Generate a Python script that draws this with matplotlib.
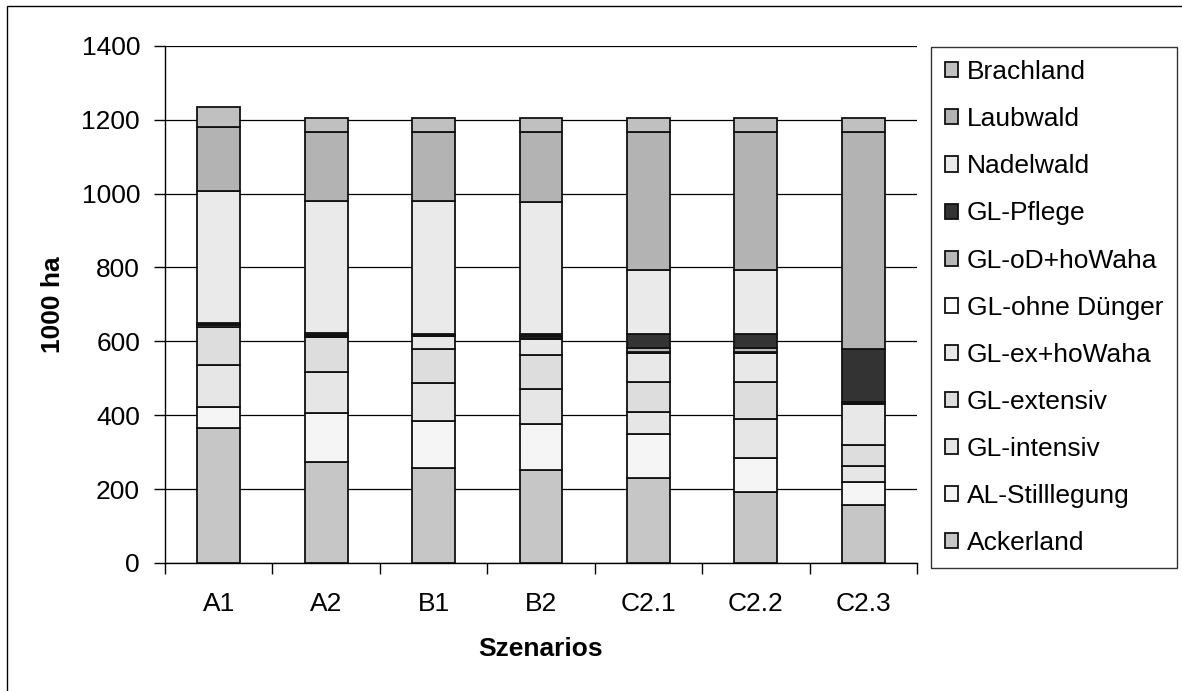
import numpy as np
import matplotlib
matplotlib.use("Agg")
import matplotlib.pyplot as plt
from matplotlib.patches import Rectangle

plt.rcParams['font.family'] = ['Liberation Sans', 'DejaVu Sans']

szenarios = ["A1", "A2", "B1", "B2", "C2.1", "C2.2", "C2.3"]

# land use in 1000 ha, stacked from bottom to top
ackerland = [366, 272, 258, 253, 229, 191, 158]
al_stilllegung = [57, 133, 126, 122, 119, 94, 62]
gl_intensiv = [113, 111, 104, 95, 60, 106, 42]
gl_extensiv = [104, 95, 91, 93, 81, 98, 57]
gl_ex_howaha = [0, 0, 34, 43, 78, 78, 112]
gl_ohne_duenger = [3, 3, 2, 3, 5, 5, 3]
gl_od_howaha = [3, 4, 2, 4, 11, 11, 3]
gl_pflege = [3, 4, 3, 7, 37, 37, 142]
nadelwald = [357, 357, 359, 358, 174, 174, 0]
laubwald = [174, 188, 188, 189, 373, 373, 588]
brachland = [53, 36, 36, 36, 36, 36, 36]

series = [
    ("Ackerland", ackerland, "#c6c6c6"),
    ("AL-Stilllegung", al_stilllegung, "#f5f5f5"),
    ("GL-intensiv", gl_intensiv, "#e6e6e6"),
    ("GL-extensiv", gl_extensiv, "#dddddd"),
    ("GL-ex+hoWaha", gl_ex_howaha, "#e8e8e8"),
    ("GL-ohne Dünger", gl_ohne_duenger, "#ffffff"),
    ("GL-oD+hoWaha", gl_od_howaha, "#b8b8b8"),
    ("GL-Pflege", gl_pflege, "#333333"),
    ("Nadelwald", nadelwald, "#eaeaea"),
    ("Laubwald", laubwald, "#b3b3b3"),
    ("Brachland", brachland, "#c0c0c0"),
]

FS = 19

fig = plt.figure(figsize=(11.82, 6.91), dpi=100)
ax = fig.add_axes([165 / 1182, 1 - 563 / 691, (917 - 165) / 1182, (563 - 45.7) / 691])

x = np.arange(len(szenarios))
bottom = np.zeros(len(szenarios))
handles = []
for name, vals, col in series:
    vals = np.array(vals, dtype=float)
    b = ax.bar(x, vals, 0.4, bottom=bottom, color=col, edgecolor="#111111",
               linewidth=1.3, label=name, zorder=3)
    handles.append(b)
    bottom += vals

ax.set_xlim(-0.5, len(szenarios) - 0.5)
ax.set_ylim(0, 1400)
ax.set_yticks(np.arange(0, 1401, 200))
ax.set_xticks(x)
ax.set_xticklabels(szenarios)
ax.set_xticks(np.arange(-0.5, len(szenarios), 1), minor=True)
ax.tick_params(axis="x", which="major", length=0, pad=21, labelsize=FS)
ax.tick_params(axis="x", which="minor", length=8, width=1, direction="out")
ax.tick_params(axis="y", length=8, width=1, direction="out", pad=10, labelsize=FS)
ax.grid(axis="y", color="black", linewidth=0.9, zorder=0)
for s in ["top", "right"]:
    ax.spines[s].set_visible(False)
for s in ["left", "bottom"]:
    ax.spines[s].set_linewidth(1)

ax.set_ylabel("1000 ha", fontsize=FS, fontweight="bold", labelpad=12)
ax.set_xlabel("Szenarios", fontsize=FS, fontweight="bold", labelpad=15)

leg = fig.legend(handles[::-1], [s[0] for s in series][::-1],
                 loc="upper left", bbox_to_anchor=(931.5 / 1182, 1 - 47 / 691),
                 fontsize=FS, frameon=True, fancybox=False, edgecolor="black",
                 handlelength=0.5, handleheight=0.5, handletextpad=0.35,
                 labelspacing=0.875, borderpad=0.5, borderaxespad=0)
leg.get_frame().set_linewidth(1)

# outer chart frame
fig.patches.append(Rectangle((7 / 1182, -0.1), 1.2, 1 - 6 / 691 + 0.1,
                             transform=fig.transFigure, fill=False,
                             edgecolor="black", linewidth=1))

fig.savefig("out.png", dpi=100)
